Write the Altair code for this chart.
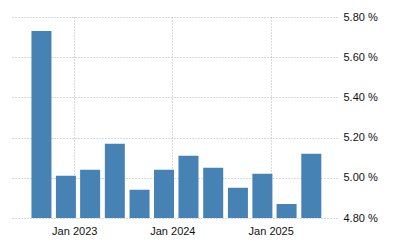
import altair as alt
import pandas as pd

dates = ["2022-09-01", "2022-12-01", "2023-03-01", "2023-06-01", "2023-09-01", "2023-12-01",
         "2024-03-01", "2024-06-01", "2024-09-01", "2024-12-01", "2025-03-01", "2025-06-01"]
values = [5.73, 5.01, 5.04, 5.17, 4.94, 5.04, 5.11, 5.05, 4.95, 5.02, 4.87, 5.12]
y_ticks = [4.8, 5.0, 5.2, 5.4, 5.6, 5.8]

df = pd.DataFrame({"date": dates, "value": values})

x_ticks = [alt.DateTime(year=y, month=1, date=1, utc=True) for y in (2023, 2024, 2025)]

chart = alt.Chart(df).mark_bar(color="#4682b4", size=20, clip=True).encode(
    x=alt.X("date:T",
            scale=alt.Scale(type="utc",
                            domain=[alt.DateTime(year=2022, month=6, date=2, utc=True),
                                    alt.DateTime(year=2025, month=8, date=17, utc=True)]),
            axis=alt.Axis(title=None, values=x_ticks,
                          labelExpr="utcFormat(datum.value, '%b %Y')",
                          ticks=False, domain=False, labelPadding=7,
                          gridDash=[1, 2], gridColor="#b4b4b4", labelFlush=False)),
    y=alt.Y("value:Q",
            scale=alt.Scale(domain=[4.8, 5.8], zero=False, nice=False),
            axis=alt.Axis(title=None, orient="right", values=y_ticks,
                          labelExpr="format(datum.value, '.2f') + ' %'",
                          ticks=False, domain=False, labelPadding=6,
                          gridDash=[1, 2], gridColor="#b4b4b4")),
).properties(
    width=325, height=201,
    autosize=alt.AutoSizeParams(type="none"),
    padding={"left": 12, "top": 17, "right": 63, "bottom": 32},
).configure_view(stroke=None).configure_axis(
    labelFont="Liberation Sans", labelFontSize=11, labelColor="#111"
)

chart.save("out.html", embed_options={"renderer": "svg", "actions": False})
